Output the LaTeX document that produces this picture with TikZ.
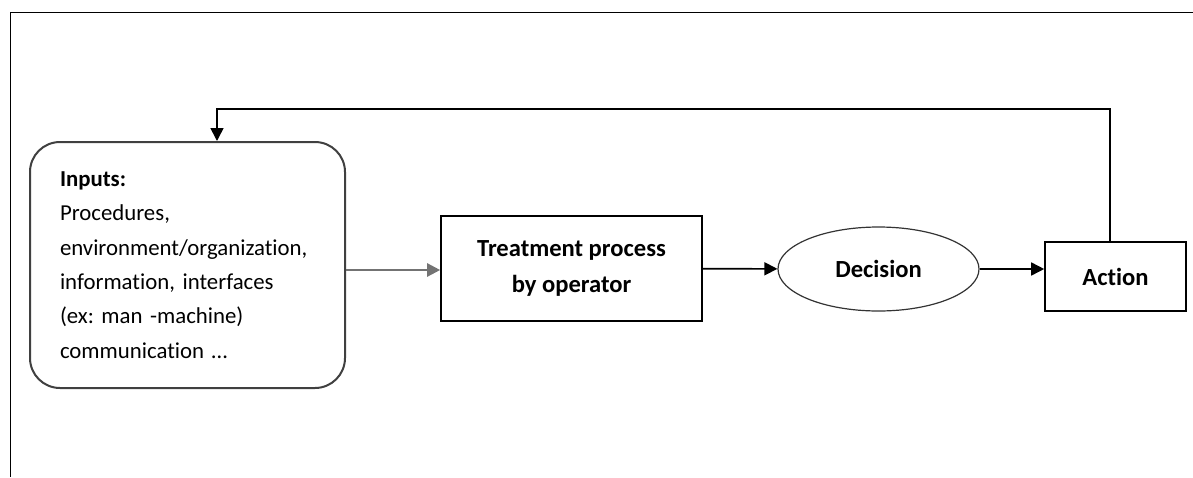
\documentclass[tikz,border=0pt]{standalone}
\usepackage{fontspec}
\setmainfont{Carlito}[Ligatures=NoCommon]
\usetikzlibrary{positioning,arrows.meta,shapes}
\frenchspacing

\begin{document}
\begin{tikzpicture}[x=0.5pt, y=-0.5pt, line width=0.8pt,
    arr/.style={-{Triangle[length=6.5pt,width=6.5pt]}},
    bold/.style={font=\fontsize{12.3}{18}\selectfont\bfseries},
    every node/.style={font=\fontsize{11.4}{17.2}\selectfont, inner sep=0pt}]
\useasboundingbox (0,0) rectangle (1193,477);
\draw[line width=0.5pt] (1193,12) -- (10,12) -- (10,477);
   \begin{scope}[every node/.append style={draw}]
\node[rounded corners=15pt, draw=black!75, line width=1pt, minimum width=157.5pt, minimum height=123pt,
      text width=127.5pt, align=left] (inp) at (187.5,265)
   {\textbf{Inputs:}\\Procedures,\\environment/organization,\\information, interfaces\\(ex: man -machine)\\communication \dots};
\node[bold, minimum width=130.5pt, minimum height=52.5pt, align=center] (tre) at (571.5,268.5)
   {Treatment process\\by operator};
\node[bold, ellipse, draw=black!80, line width=0.6pt, minimum width=100.5pt, minimum height=42pt] (dec) at (878.5,269) {Decision};
\node[bold, minimum width=70.5pt, minimum height=34.5pt] (act) at (1115.5,276.5) {Action};
  \end{scope}
\coordinate (fb) at (217,109);
\draw[arr, draw=black!55, line width=1.2pt] ([yshift=-2.5pt]inp.east) -- ([yshift=-2.5pt]inp.east -| tre.west);
\draw[arr] (tre) -- (dec);
\draw[arr] (dec) -- (dec -| act.west);
\draw[arr] ([xshift=-2.75pt]act.north) |- (fb) -- (fb |- inp.north);
\end{tikzpicture}
\end{document}
